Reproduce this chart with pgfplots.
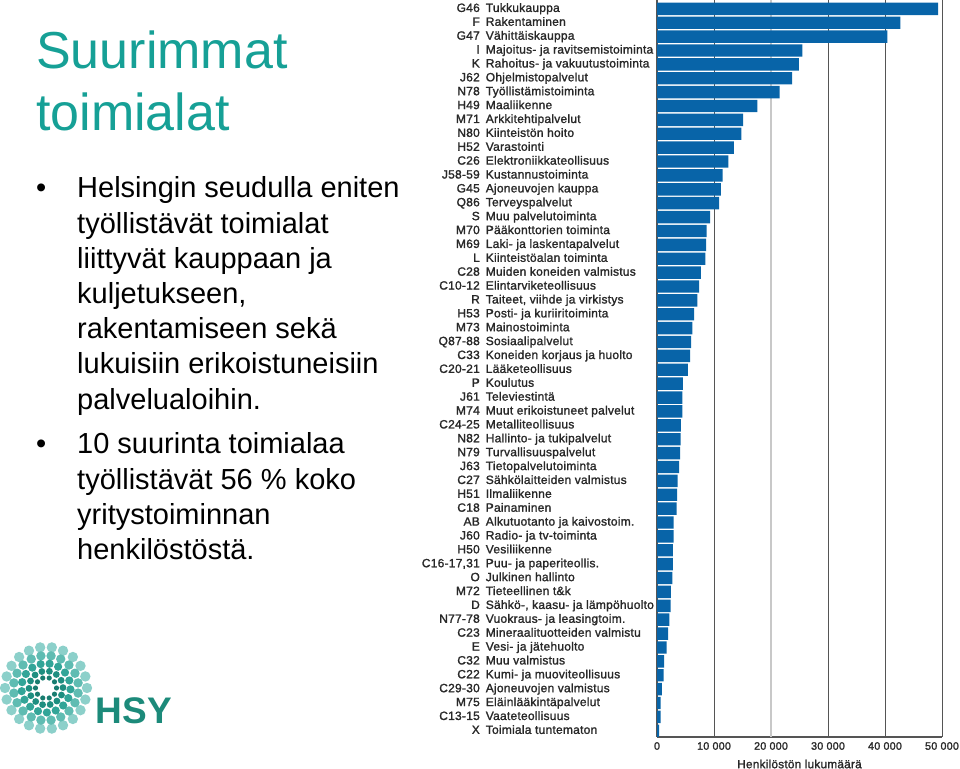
\documentclass[border=0pt]{standalone}
\usepackage{pgfplots}
\pgfplotsset{compat=1.18}
\usepackage{pgfplotstable}
\usepackage{fontspec}
\setmainfont{Liberation Sans}
\newfontfamily\lblfont[FakeBold=1.5,LetterSpace=2]{Liberation Sans}
\definecolor{titleteal}{RGB}{22,160,150}
\definecolor{barblue}{RGB}{8,100,168}
\definecolor{gridD}{RGB}{85,85,85}
\definecolor{gridL}{RGB}{200,200,200}
\definecolor{lblgray}{RGB}{40,40,40}
\definecolor{logoA}{RGB}{140,208,202}
\definecolor{logoB}{RGB}{95,188,178}
\definecolor{logoC}{RGB}{50,165,152}
\definecolor{logoD}{RGB}{30,142,128}
\definecolor{logoE}{RGB}{25,125,112}
\definecolor{hsy}{RGB}{28,138,122}

\pgfplotstableread[col sep=semicolon]{
idx;code;name;value
0;G46;Tukkukauppa;49300
1;F;Rakentaminen;42700
2;G47;Vähittäiskauppa;40400
3;I;Majoitus- ja ravitsemistoiminta;25500
4;K;Rahoitus- ja vakuutustoiminta;24900
5;J62;Ohjelmistopalvelut;23700
6;N78;Työllistämistoiminta;21500
7;H49;Maaliikenne;17600
8;M71;Arkkitehtipalvelut;15100
9;N80;Kiinteistön hoito;14800
10;H52;Varastointi;13500
11;C26;Elektroniikkateollisuus;12500
12;J58-59;Kustannustoiminta;11500
13;G45;Ajoneuvojen kauppa;11200
14;Q86;Terveyspalvelut;10900
15;S;Muu palvelutoiminta;9300
16;M70;Pääkonttorien toiminta;8700
17;M69;Laki- ja laskentapalvelut;8600
18;L;Kiinteistöalan toiminta;8500
19;C28;Muiden koneiden valmistus;7700
20;C10-12;Elintarviketeollisuus;7400
21;R;Taiteet, viihde ja virkistys;7100
22;H53;Posti- ja kuriiritoiminta;6500
23;M73;Mainostoiminta;6200
24;Q87-88;Sosiaalipalvelut;6000
25;C33;Koneiden korjaus ja huolto;5800
26;C20-21;Lääketeollisuus;5400
27;P;Koulutus;4550
28;J61;Televiestintä;4450
29;M74;Muut erikoistuneet palvelut;4450
30;C24-25;Metalliteollisuus;4200
31;N82;Hallinto- ja tukipalvelut;4150
32;N79;Turvallisuuspalvelut;4050
33;J63;Tietopalvelutoiminta;3900
34;C27;Sähkölaitteiden valmistus;3600
35;H51;Ilmaliikenne;3550
36;C18;Painaminen;3450
37;AB;Alkutuotanto ja kaivostoim.;2900
38;J60;Radio- ja tv-toiminta;2900
39;H50;Vesiliikenne;2800
40;C16-17,31;Puu- ja paperiteollis.;2800
41;O;Julkinen hallinto;2700
42;M72;Tieteellinen t\&k;2450
43;D;Sähkö-, kaasu- ja lämpöhuolto;2400
44;N77-78;Vuokraus- ja leasingtoim.;2150
45;C23;Mineraalituotteiden valmistu;1950
46;E;Vesi- ja jätehuolto;1700
47;C32;Muu valmistus;1250
48;C22;Kumi- ja muoviteollisuus;1150
49;C29-30;Ajoneuvojen valmistus;850
50;M75;Eläinlääkintäpalvelut;650
51;C13-15;Vaateteollisuus;650
52;X;Toimiala tuntematon;350
}\data

\begin{document}
\begin{tikzpicture}[x=1bp,y=1bp]
\path[use as bounding box] (0,0) rectangle (960,769);

% title
\node[anchor=base west, inner sep=0pt, text=titleteal, font=\fontsize{52bp}{60bp}\selectfont] at (36,700) {Suurimmat};
\node[anchor=base west, inner sep=0pt, text=titleteal, font=\fontsize{52bp}{60bp}\selectfont] at (36,638) {toimialat};

% bullets
\begin{scope}[every node/.style={anchor=base west, inner sep=0pt, font=\fontsize{29bp}{35bp}\selectfont}]
\node at (36,571) {•};
\node at (77,571) {Helsingin seudulla eniten};
\node at (77,535.8) {työllistävät toimialat};
\node at (77,500.6) {liittyvät kauppaan ja};
\node at (77,465.4) {kuljetukseen,};
\node at (77,430.2) {rakentamiseen sekä};
\node at (77,395) {lukuisiin erikoistuneisiin};
\node at (77,359.8) {palvelualoihin.};
\node at (36,315) {•};
\node at (77,315) {10 suurinta toimialaa};
\node at (77,279.8) {työllistävät 56 \% koko};
\node at (77,244.6) {yritystoiminnan};
\node at (77,209.4) {henkilöstöstä.};
\end{scope}

% logo
\foreach \r/\n/\s/\c/\off in {41/22/5.2/logoA/0, 32.5/20/4.7/logoB/9, 24.5/17/4.1/logoC/18, 17/14/3.4/logoD/27, 10.5/10/2.6/logoE/36} {
  \foreach \k in {1,...,\n} {
    \fill[\c] ({46+\r*cos(360*\k/\n+\off)},{81+\r*sin(360*\k/\n+\off)}) circle (\s);
  }
}
\node[anchor=base, inner sep=0pt, text=hsy, font=\fontsize{37bp}{40bp}\selectfont\bfseries] at (134,45) {HSY};

\begin{axis}[
  at={(657bp,32bp)}, anchor=south west,
  scale only axis, width=285bp, height=736.5bp,
  xmin=0, xmax=50000, ymin=-0.6, ymax=52.45,
  y dir=reverse,
  xbar, bar width=12.4bp,
  axis x line*=bottom, axis y line*=left,
  axis line style={draw=gridD, line width=1.6bp, -},
  scaled x ticks=false,
  xtick={0,10000,30000,40000,50000},
  xticklabels={0,10 000,30 000,40 000,50 000},
  extra x ticks={20000},
  extra x tick labels={20 000},
  extra x tick style={grid style={draw=gridL, line width=1.2bp}},
  xmajorgrids,
  grid style={draw=gridD, line width=0.9bp},
  major tick length=0pt,
  ytick={0,...,52},
  yticklabel={\pgfplotstablegetelem{\ticknum}{code}\of\data\let\mycode\pgfplotsretval\pgfplotstablegetelem{\ticknum}{name}\of\data\makebox[48bp][r]{\mycode}\hspace{6bp}\makebox[168bp][l]{\pgfplotsretval}},
  yticklabel style={anchor=east, inner sep=0pt, xshift=-3bp, text height=8.8bp, text depth=2.6bp, text=lblgray, font=\lblfont\fontsize{12bp}{13bp}\selectfont},
  xticklabel style={inner sep=0pt, yshift=-5bp, text=lblgray, font=\lblfont\fontsize{10.8bp}{12bp}\selectfont},
  xlabel={Henkilöstön lukumäärä},
  xlabel style={at={(rel axis cs:0.5,0)}, anchor=center, yshift=-27bp, text=lblgray, font=\lblfont\fontsize{11.8bp}{13bp}\selectfont},
]
\addplot[fill=barblue, draw=none] table[x=value, y=idx] {\data};
\end{axis}
\end{tikzpicture}
\end{document}
